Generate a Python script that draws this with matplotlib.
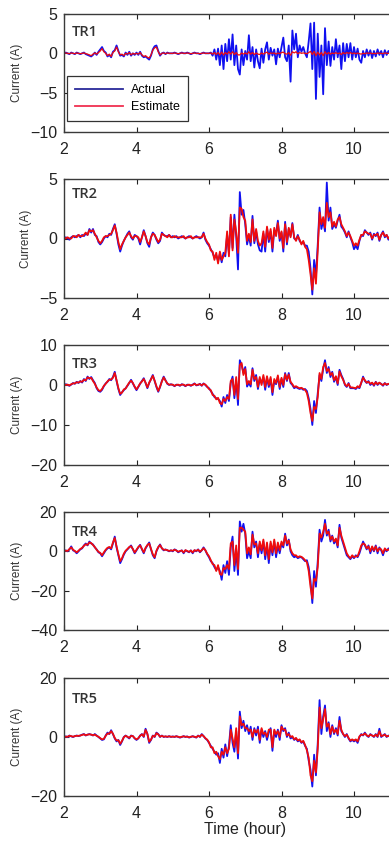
import numpy as np
import matplotlib
matplotlib.use("Agg")
import matplotlib.pyplot as plt

# time grid (hours): 2.00 .. 11.00 in 0.05 h steps
T_START, T_STEP = 2.0, 0.05

tr1_actual = [
    0, 0.1, 0, -0.1, 0.1, 0, -0.1, 0.1, 0, -0.1, 0, 0.1, -0.1, -0.2, -0.3, -0.4, -0.2, 0.1, -0.2, 0.2,
    0.5, 0.8, 0.3, 0.1, -0.4, -0.2, -0.5, 0.2, 0.4, 1.0, 0.3, -0.3, -0.2, -0.4, 0.1, -0.2, 0.2, -0.3, 0, -0.2,
    0.1, -0.2, 0.2, -0.3, -0.5, -0.4, -0.6, -0.8, -0.3, 0.5, 0.9, 1.0, 0.3, -0.3, 0, 0.1, -0.1, 0.1, 0, 0,
    0, 0.1, 0, -0.1, 0, 0.1, 0, 0, 0.1, 0, -0.1, 0, 0.1, 0, 0, -0.1, 0, 0.1, 0, 0,
    0, 0.1, -0.3, 0.5, -0.8, 0.6, -1.5, 1.0, -2.0, 1.2, -1.0, 1.8, -0.8, 2.4, -1.5, 1.0, -2.0, -2.7, 0.5, -1.5,
    0.3, -0.8, 2.3, -1.0, 0.8, -1.8, 0.5, -1.0, -1.9, 0.6, -1.2, 0.5, 1.4, -0.8, 0.7, -0.3, 0.5, -1.4, 0.6, -0.5,
    0.8, 2.0, -0.5, -1.0, 1.0, -3.6, 2.9, 0.5, 2.5, -0.5, 1.0, 0.2, 0.8, 0, -0.5, 1.5, 3.8, -2.0, 3.9, -5.8,
    2.5, -3.0, 1.0, -5.2, 3.2, -1.5, 1.5, -1.6, 0.8, -0.8, 1.8, -0.5, 1.0, -2.0, 1.3, -1.0, 1.2, -0.5, 1.3, -0.8,
    0.8, -0.5, 0.6, -0.8, -1.2, 0.3, -0.5, 0.5, -0.3, 0.4, -0.6, 0.3, -0.4, 0.5, -0.2, 0.3, -0.5, 0.4, -0.2, 0.3,
    0,
]
tr1_est = [
    0, 0.05, 0, -0.05, 0.05, 0, -0.05, 0.05, 0, -0.05, 0, 0.05, -0.05, -0.1, -0.2, -0.3, -0.1, 0.05, -0.1, 0.1,
    0.3, 0.6, 0.2, 0, -0.3, -0.1, -0.4, 0.1, 0.3, 0.8, 0.2, -0.2, -0.1, -0.3, 0, -0.1, 0.1, -0.2, 0, -0.1,
    0, -0.1, 0.1, -0.2, -0.4, -0.3, -0.5, -0.6, -0.2, 0.4, 0.7, 0.8, 0.2, -0.2, 0, 0.05, -0.05, 0.05, 0, 0,
    0, 0.05, 0, -0.05, 0, 0.05, 0, 0, 0.05, 0, -0.05, 0, 0.05, 0, 0, -0.05, 0, 0.05, 0, 0,
    0, 0.05, -0.1, 0.1, -0.15, 0.1, -0.2, 0.15, -0.2, 0.1, -0.1, 0.2, -0.1, 0.2, -0.15, 0.1, -0.2, -0.2, 0.05, -0.1,
    0.05, -0.1, 0.2, -0.1, 0.1, -0.15, 0.05, -0.1, -0.15, 0.05, -0.1, 0.05, 0.15, -0.1, 0.05, 0, 0.05, -0.1, 0.05, -0.05,
    0.1, 0.15, -0.05, -0.1, 0.1, -0.25, 0.2, 0.05, 0.2, -0.05, 0.1, 0, 0.05, 0, -0.05, 0.1, 0.25, -0.15, 0.25, -0.3,
    0.15, -0.2, 0.1, -0.3, 0.2, -0.1, 0.1, -0.1, 0.05, -0.05, 0.1, -0.05, 0.05, -0.15, 0.1, -0.05, 0.1, 0, 0.1, -0.05,
    0.05, -0.05, 0.05, -0.05, -0.1, 0, -0.05, 0.05, 0, 0.05, -0.05, 0, -0.05, 0.05, 0, 0, -0.05, 0.05, 0, 0,
    0,
]

tr2_actual = [
    0, 0.1, 0, -0.1, 0.1, 0.2, 0.1, 0.2, 0.3, 0.1, 0.3, 0.2, 0.4, 0.3, 0.8, 0.5, 0.8, 0.3, 0.2, -0.3,
    -0.5, -0.3, 0, 0.2, 0.1, 0.4, 0.3, 0.8, 1.2, 0.4, -0.5, -1.1, -0.6, -0.2, 0.1, 0.4, 0.6, 0.1, -0.1, 0.3,
    0.2, 0, -0.5, 0.1, 0.7, 0.2, -0.4, -0.7, 0.1, 0.5, 0.3, -0.1, -0.4, -0.2, 0.5, 0.3, 0.2, 0.2, 0.3, 0.1,
    0.2, 0.1, 0.2, 0, 0.1, 0.2, 0.1, 0, 0.1, 0.2, 0.1, 0, 0.1, 0.2, 0.1, 0, 0.1, 0.5, -0.1, -0.4,
    -0.6, -0.9, -1.2, -1.6, -1.4, -1.9, -1.3, -2.0, -1.2, -1.5, 0.3, -1.2, 1.8, -0.8, 2.0, 0.2, -2.6, 3.9, 2.0, 2.4,
    1.2, -0.5, 0.2, -0.6, 1.9, -0.4, 0.6, -0.5, -1.0, -1.1, 0.4, -1.1, 0.9, -0.3, 0.6, -1.1, 0.7, 0.4, 1.5, -0.2,
    0.5, -1.1, 1.4, -0.5, 0.8, 0.2, 1.3, 0, -0.1, 0.3, -0.2, -0.4, -0.3, -0.6, -0.6, -1.1, -2.5, -4.7, -1.8, -3.2,
    -0.5, 2.6, 0.8, 1.5, 0.6, 4.7, 1.5, 2.6, 0.8, 1.2, 0.9, 1.5, 2.0, 1.0, 0.8, 0.5, 0.1, 0.6, 0.1, -0.3,
    -0.9, -0.6, -0.9, -0.2, 0.3, 0.2, 0.7, 0.5, 0.3, 0.5, -0.1, 0.4, 0.2, 0.5, -0.2, 0.3, 0.6, 0.1, 0.3, -0.1,
    0.2,
]
tr2_est = [
    0.1, 0, 0.1, 0, 0, 0.2, 0.2, 0.1, 0.3, 0.2, 0.2, 0.3, 0.5, 0.3, 0.7, 0.6, 0.7, 0.4, 0.1, -0.2,
    -0.4, -0.2, 0.1, 0.2, 0.2, 0.3, 0.4, 0.7, 1.1, 0.5, -0.3, -0.9, -0.5, -0.2, 0.1, 0.3, 0.5, 0.2, 0, 0.2,
    0.2, 0.1, -0.3, 0.1, 0.6, 0.2, -0.3, -0.5, 0.1, 0.4, 0.3, 0, -0.3, -0.1, 0.4, 0.3, 0.2, 0.1, 0.3, 0.1,
    0.1, 0.2, 0.1, 0.1, 0.1, 0.1, 0.2, 0, 0.1, 0.1, 0.2, 0, 0.1, 0.1, 0.1, 0.1, 0.1, 0.4, 0, -0.3,
    -0.5, -1.0, -1.1, -1.8, -1.2, -2.1, -1.1, -1.8, -1.5, -1.2, 0.6, -1.5, 2.0, -1.0, 1.6, 0.5, -1.2, 2.6, 2.5, 1.8,
    1.5, -0.2, 0.4, -0.3, 1.6, -0.2, 0.8, -0.2, -0.6, -0.4, 0.6, -0.7, 1.0, -0.1, 0.8, -0.8, 0.9, 0.2, 1.3, 0,
    0.6, -0.8, 1.2, -0.3, 0.9, 0.1, 1.2, 0.1, -0.2, 0.2, -0.1, -0.5, -0.2, -0.7, -0.9, -1.8, -3.0, -4.3, -2.5, -3.8,
    -1.0, 2.2, 1.2, 1.8, 0.9, 3.0, 1.8, 2.2, 1.0, 1.4, 1.0, 1.6, 1.8, 1.2, 0.9, 0.6, 0.2, 0.5, 0.2, -0.2,
    -0.6, -0.4, -0.6, -0.1, 0.3, 0.3, 0.6, 0.5, 0.4, 0.4, 0, 0.3, 0.3, 0.4, -0.1, 0.3, 0.5, 0.2, 0.3, 0,
    0.2,
]

tr3_actual = [
    0, 0.2, 0, -0.2, 0.1, 0.5, 0.3, 0.8, 0.5, 1.0, 0.6, 1.5, 1.0, 2.1, 1.5, 2.0, 1.2, 0.5, -0.8, -1.5,
    -1.7, -1.2, -0.3, 0.4, 0.8, 1.5, 1.2, 2.0, 3.3, 1.0, -1.0, -2.5, -1.8, -1.3, -0.8, -0.2, 0.5, 1.3, 0.4, -0.5,
    -1.3, -0.5, 0.3, 1.0, 1.7, 0.5, -0.8, 0.5, 1.5, 2.5, 1.0, -0.5, -1.7, -0.5, 1.0, 2.1, 1.2, 0.3, 0, 0.2,
    0, -0.3, 0.1, 0, -0.2, 0.2, 0, -0.3, 0.1, 0, -0.2, 0.1, 0.4, -0.1, 0, 0.3, -0.2, 0.4, 0, -0.5,
    -0.8, -1.5, -2.2, -3.0, -3.3, -3.5, -4.0, -5.4, -3.0, -4.5, -2.5, -4.0, 0.5, 2.1, -3.3, 1.0, -5.0, 6.2, 5.0, 3.0,
    4.5, -0.4, 0.5, -0.4, 4.2, 1.0, 2.5, -1.0, 1.5, 0.5, 2.0, -1.2, 1.8, -0.5, 1.5, -2.5, 1.0, 0.2, 2.0, -1.0,
    1.5, -0.5, 3.0, 1.0, 3.0, 0.5, 0, -0.8, -0.5, -0.8, -1.0, -0.8, -1.2, -1.0, -1.5, -3.3, -6.0, -10.0, -4.0, -7.0,
    -2.0, 2.5, 1.0, 4.0, 6.2, 3.0, 4.5, 2.0, 3.3, 0.8, 2.0, 0, 3.8, 2.5, 1.5, 0, -0.5, 0.5, -0.8, -0.8,
    -0.8, -1.0, -0.5, -0.8, 0.5, 2.1, 1.0, 0.5, 1.0, 0, 0.5, -0.2, 0.8, 0, 0.5, 0.3, -0.2, 0.5, 0, 0.3,
    0,
]
tr3_est = [
    0.2, 0, 0.1, -0.1, 0.2, 0.4, 0.4, 0.7, 0.6, 0.9, 0.8, 1.3, 1.2, 1.9, 1.7, 1.8, 1.0, 0.3, -0.6, -1.3,
    -1.5, -1.0, -0.2, 0.3, 0.9, 1.3, 1.4, 1.8, 3.0, 1.2, -0.8, -2.2, -1.9, -1.1, -0.9, -0.1, 0.6, 1.1, 0.5, -0.4,
    -1.1, -0.4, 0.4, 0.9, 1.5, 0.6, -0.6, 0.6, 1.4, 2.3, 1.1, -0.3, -1.5, -0.4, 0.9, 1.9, 1.1, 0.4, 0.1, 0.1,
    0.1, -0.2, 0, 0.1, -0.1, 0.1, 0.1, -0.2, 0, 0.1, -0.1, 0, 0.3, 0, 0.1, 0.2, -0.1, 0.3, 0.1, -0.4,
    -1.0, -1.3, -2.5, -2.7, -3.6, -3.2, -4.5, -4.8, -3.5, -4.0, -3.0, -3.5, 1.0, 1.5, -2.5, 2.0, -3.5, 5.0, 5.5, 2.5,
    4.0, 0.2, 1.0, 0.2, 3.8, 1.5, 2.0, -0.5, 2.0, 0, 2.5, -0.5, 2.2, 0, 2.0, -1.8, 1.5, 0.5, 2.4, -0.5,
    1.8, 0, 2.7, 1.3, 2.6, 0.8, 0.2, -0.5, -0.3, -0.6, -0.8, -0.7, -1.0, -1.2, -2.0, -4.0, -7.0, -9.0, -5.5, -6.0,
    -3.0, 3.0, 1.5, 4.5, 5.5, 3.5, 4.0, 2.5, 3.0, 1.2, 2.2, 0.4, 3.4, 2.2, 1.3, 0.2, -0.3, 0.3, -0.6, -0.6,
    -0.7, -0.8, -0.3, -0.6, 0.6, 1.8, 1.2, 0.6, 0.8, 0.3, 0.6, 0, 0.7, 0.2, 0.6, 0.2, 0, 0.4, 0.1, 0.3,
    0.1,
]

tr4_actual = [
    0, 0.5, 0, 1.0, 2.5, 0.5, 0, -1.0, 0, 1.0, 1.5, 3.0, 4.0, 3.0, 5.0, 4.0, 3.5, 2.0, 1.0, -0.5,
    -1.0, -2.5, -1.0, 0.5, 1.5, 2.0, 1.0, 4.0, 7.5, 2.0, -2.0, -6.0, -4.0, -1.7, 0, 1.0, 2.0, 3.0, 1.0, -1.0,
    0.5, 2.0, 3.3, 1.0, -1.0, 1.5, 3.0, 4.5, 1.0, -2.0, -3.5, 0, 2.0, 3.5, 1.5, 0.5, 1.0, 0.5, 0, 0.5,
    0, 1.0, 0.5, -0.5, 0, 0.5, -1.0, 0.5, 0, -0.5, 0.5, -1.0, 0.5, 0, 1.0, -0.5, 0.5, 2.0, 0.5, -1.5,
    -3.0, -5.0, -6.0, -8.0, -9.5, -8.0, -10.0, -14.5, -7.0, -11.0, -5.0, -12.0, 2.0, 7.5, -10.0, 0, -12.0, 15.2, 10.0, 14.0,
    9.0, -3.5, 0, -3.5, 10.0, 2.0, 5.0, -3.0, 4.0, -1.0, 5.0, -4.0, 3.0, -6.0, 4.0, -2.0, 5.0, -3.0, 3.0, -1.0,
    4.0, 2.0, 9.0, 3.0, 6.0, 0, -2.0, -3.0, -2.5, -3.5, -3.0, -3.0, -4.0, -5.0, -4.5, -8.0, -15.0, -26.3, -10.0, -18.0,
    -5.0, 11.0, 5.0, 8.0, 16.0, 8.0, 11.0, 5.0, 8.0, 4.0, 6.0, 2.0, 13.5, 7.0, 4.0, 1.0, -2.0, -3.0, -4.0, -2.5,
    -3.5, -2.0, -3.0, -1.0, 2.0, 5.0, 3.0, 1.0, 3.0, -1.0, 2.0, 0, 3.0, -1.0, 2.0, 0.5, -2.0, 1.0, 0, 1.5,
    0,
]
tr4_est = [
    0.3, 0.3, 0.2, 1.2, 2.0, 0.8, 0.2, -0.5, 0.3, 1.2, 1.8, 2.8, 3.6, 3.3, 4.5, 4.2, 3.2, 2.2, 0.8, -0.2,
    -0.8, -2.0, -0.5, 0.8, 1.8, 2.2, 1.5, 4.5, 6.8, 2.5, -1.5, -5.0, -3.5, -1.2, 0.3, 1.2, 2.2, 2.6, 1.2, -0.6,
    0.8, 2.2, 3.0, 1.2, -0.5, 1.8, 3.2, 4.0, 1.3, -1.5, -3.0, 0.3, 2.2, 3.2, 1.6, 0.8, 0.8, 0.6, 0.2, 0.5,
    0.3, 0.8, 0.4, -0.2, 0.2, 0.4, -0.6, 0.6, 0.2, -0.3, 0.4, -0.6, 0.6, 0.2, 0.8, -0.2, 0.6, 1.6, 0.6, -1.2,
    -2.5, -4.5, -6.5, -7.0, -10.0, -7.0, -11.5, -12.0, -8.5, -9.0, -7.0, -9.0, 4.0, 5.0, -7.0, 3.0, -9.0, 12.0, 12.0, 11.0,
    10.0, -1.0, 2.0, -1.5, 8.5, 3.5, 4.0, -1.0, 5.0, 0.5, 6.0, -2.0, 4.5, -4.0, 5.0, -0.5, 6.0, -1.0, 4.5, 0.5,
    5.0, 3.0, 8.0, 4.0, 5.5, 1.0, -1.0, -2.0, -2.0, -3.0, -2.5, -2.8, -3.5, -4.5, -5.5, -10.0, -18.0, -24.0, -14.0, -15.0,
    -8.0, 9.0, 7.0, 10.0, 14.0, 9.0, 10.0, 6.0, 7.5, 5.0, 6.5, 3.0, 12.0, 8.0, 5.0, 2.0, -1.0, -2.5, -3.5, -2.0,
    -3.0, -2.5, -2.5, 0, 3.0, 4.0, 3.5, 1.5, 2.5, 0, 2.5, 0.5, 2.5, 0, 1.5, 1.0, -1.0, 1.5, 0.5, 1.0,
    0.3,
]

tr5_actual = [
    0, 0.2, 0, 0.5, 0.2, 0, 0.3, 0.5, 0.3, 0.5, 0.8, 1.0, 0.5, 0.8, 1.0, 0.8, 0.5, 1.0, 0.5, 0,
    -0.5, -1.0, -0.8, 0.5, 1.5, 1.0, 2.3, 1.0, -0.5, -1.5, -1.0, -2.7, -1.5, 0, 0.5, 0, -0.5, 0.5, 0.3, -0.5,
    -1.0, -0.5, 0.5, 1.0, 0, 2.8, 1.0, -2.0, -1.0, 0.5, 0, 1.5, 1.0, 0, 0.5, 0, 0.2, 0, 0.3, 0,
    0.2, 0, 0.3, 0, -0.2, 0, 0.3, 0, 0.2, -0.2, 0, 0.3, 0, -0.2, 0.5, 0, 1.0, 0.3, -0.5, -1.0,
    -2.0, -3.0, -4.0, -5.0, -6.0, -5.5, -8.8, -4.0, -7.0, -2.5, -6.5, -3.0, 4.0, -2.0, -5.0, 2.0, -7.3, 8.6, 3.0, 5.5,
    2.0, 4.0, 1.0, 3.5, -1.0, 3.0, 0.5, 3.5, -2.0, 2.5, 0, 2.0, -1.0, 1.5, 3.0, -4.7, 2.0, 0, 2.5, -1.0,
    4.0, 2.0, 3.0, 0, 1.5, -0.5, 0, -1.0, -0.5, -1.5, -1.0, -2.0, -1.5, -3.0, -4.0, -8.0, -11.0, -16.8, -6.0, -13.0,
    -2.0, 12.5, 1.0, 7.0, 10.7, 2.0, 5.0, 0, 4.0, 1.0, 3.0, 0.5, 6.8, 2.0, 1.0, 0, 1.0, -0.5, -1.5, -1.0,
    -1.5, -1.0, -2.0, 0, 1.0, 0.5, 1.5, 0.5, 0, 1.0, 0.5, 0, 1.0, 0, 2.8, 0, 0.5, 1.0, 0, 0.5,
    0,
]
tr5_est = [
    0.1, 0.1, 0.1, 0.4, 0.3, 0.1, 0.3, 0.4, 0.4, 0.5, 0.7, 0.9, 0.6, 0.8, 0.9, 0.8, 0.6, 0.8, 0.4, 0.1,
    -0.4, -0.8, -0.6, 0.4, 1.2, 1.1, 2.0, 1.1, -0.3, -1.2, -1.1, -2.3, -1.3, -0.1, 0.4, 0.1, -0.3, 0.4, 0.3, -0.4,
    -0.8, -0.4, 0.4, 0.9, 0.2, 2.4, 1.1, -1.6, -0.9, 0.4, 0.1, 1.3, 0.9, 0.1, 0.4, 0.1, 0.2, 0.1, 0.2, 0.1,
    0.1, 0.1, 0.2, 0.1, -0.1, 0.1, 0.2, 0.1, 0.1, -0.1, 0.1, 0.2, 0.1, -0.1, 0.4, 0.1, 0.8, 0.3, -0.4, -0.9,
    -1.8, -3.5, -3.5, -5.5, -5.0, -6.5, -7.5, -5.0, -6.0, -3.5, -5.5, -4.0, 2.5, -0.5, -3.5, 3.0, -5.5, 7.0, 4.0, 4.5,
    3.0, 3.0, 2.0, 2.5, 0, 2.5, 1.5, 2.5, -1.0, 3.0, 1.0, 1.5, 0, 2.5, 2.5, -3.5, 2.5, 1.0, 2.0, 0,
    3.5, 2.5, 2.5, 0.5, 1.0, 0, 0.3, -0.8, -0.3, -1.2, -0.8, -1.8, -1.3, -2.7, -4.5, -7.0, -13.0, -15.0, -8.0, -12.0,
    -4.0, 10.0, 3.0, 6.0, 9.5, 3.5, 4.5, 1.0, 3.5, 1.5, 2.5, 1.0, 5.5, 2.5, 1.0, 0.3, 0.8, -0.3, -1.2, -0.8,
    -1.2, -0.8, -1.5, 0.2, 0.8, 0.7, 1.2, 0.6, 0.2, 0.8, 0.5, 0.2, 0.8, 0.2, 2.0, 0.3, 0.5, 0.8, 0.2, 0.4,
    0.1,
]

panel_names = ["TR1", "TR2", "TR3", "TR4", "TR5"]
actual_series = [tr1_actual, tr2_actual, tr3_actual, tr4_actual, tr5_actual]
estimate_series = [tr1_est, tr2_est, tr3_est, tr4_est, tr5_est]
y_limits = [(-10, 5), (-5, 5), (-20, 10), (-40, 20), (-20, 20)]
y_ticks = [[-10, -5, 0, 5], [-5, 0, 5], [-20, -10, 0, 10], [-40, -20, 0, 20], [-20, 0, 20]]
x_ticks = [2, 4, 6, 8, 10]

# layout (pixels in the 389x842 image)
W, H = 389, 842
axes_px = [(14, 132), (179, 298), (345, 465), (512, 630), (678, 796)]
label_gap_px = [11, 8, 12, 13, 14]
x_left_px, x_right_px = 64, 426.5

plt.rcParams['font.family'] = ['Liberation Sans', 'DejaVu Sans']
fig = plt.figure(figsize=(W / 100, H / 100), dpi=100)

BLUE = '#1010f0'
RED = '#f00c0c'
SPINE = '#3a3a3a'

for i in range(5):
    top, bot = axes_px[i]
    ax = fig.add_axes([x_left_px / W, 1 - bot / H, (x_right_px - x_left_px) / W, (bot - top) / H])
    act = np.asarray(actual_series[i], dtype=float)
    est = np.asarray(estimate_series[i], dtype=float)
    t = T_START + T_STEP * np.arange(len(act))
    ax.plot(t, act, color=BLUE, lw=1.3, label='Actual')
    ax.plot(t, est, color=RED, lw=(1.3 if i > 0 else 0.9), label='Estimate')
    ax.set_xlim(2, 12)
    ax.set_ylim(*y_limits[i])
    ax.set_yticks(y_ticks[i])
    ax.set_xticks(x_ticks)
    ax.tick_params(direction='in', length=3.5, width=0.8, colors='#222222', labelsize=11.5,
                   top=True, right=True, pad=5)
    ax.tick_params(axis='x', pad=7)
    for sp in ax.spines.values():
        sp.set_color(SPINE)
        sp.set_linewidth(1.0)
    ax.set_ylabel('Current (A)', fontsize=8.5, color='#333333', labelpad=5)
    ax.text(0.022, 1 - label_gap_px[i] / (bot - top), panel_names[i], transform=ax.transAxes,
            ha='left', va='top', fontsize=10.5, fontweight='semibold', color='#333333',
            family=['Open Sans', 'DejaVu Sans'])
    if i == 0:
        leg = ax.legend(loc='lower left', bbox_to_anchor=(3 / (x_right_px - x_left_px), 11 / (bot - top)),
                        borderaxespad=0, fontsize=9, handlelength=3.8, handletextpad=0.7,
                        borderpad=0.65, labelspacing=0.4, fancybox=False, framealpha=1)
        leg.get_frame().set_edgecolor('#333333')
        leg.get_frame().set_linewidth(0.9)
        leg.get_lines()[0].set_color('#2a2a9a')
        leg.get_lines()[0].set_linewidth(1.3)
        leg.get_lines()[1].set_color('#f03050')
        leg.get_lines()[1].set_linewidth(1.3)
    if i == 4:
        ax.set_xlabel('Time (hour)', fontsize=11.5, color='#222222', labelpad=1)

fig.savefig('out.png', dpi=100)
